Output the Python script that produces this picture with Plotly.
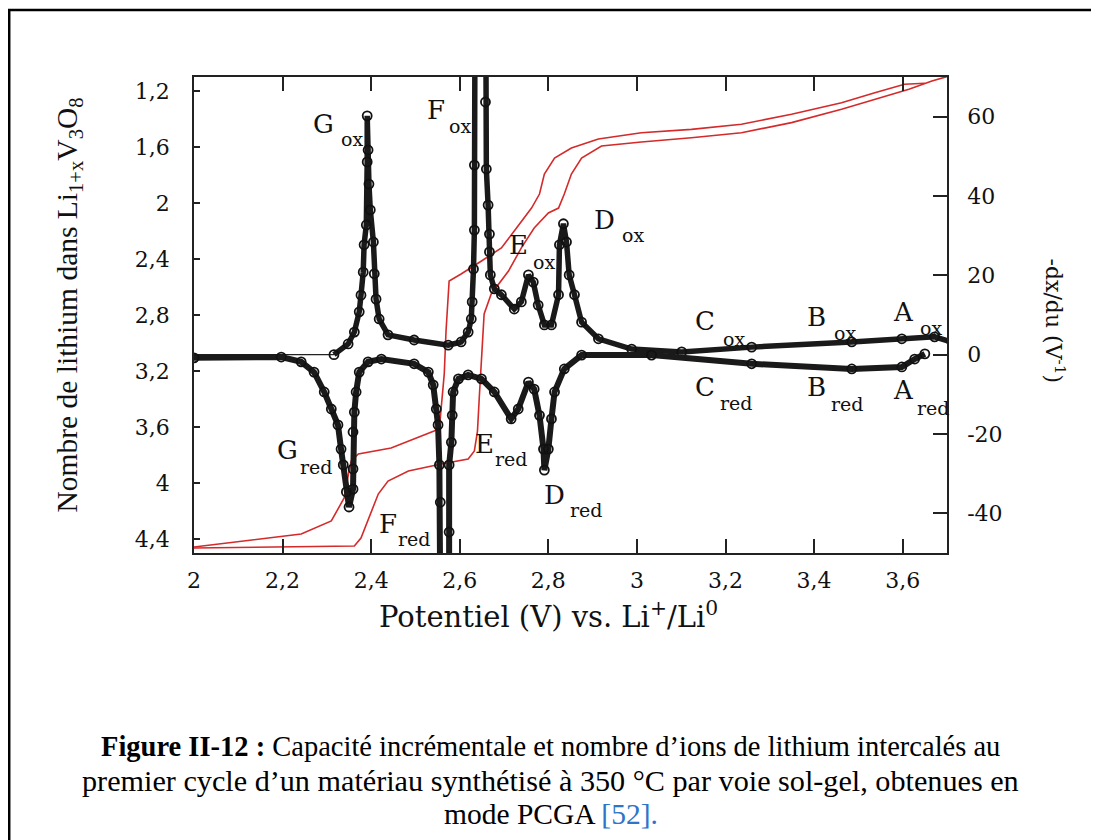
import plotly.graph_objects as go

# ---------------- data ----------------
# Lithium content (left axis, reversed) vs potential: two red curves
li_curve1_v = [2.000, 2.106, 2.197, 2.242, 2.310, 2.339, 2.350, 2.355, 2.371, 2.445, 2.542, 2.554,
               2.565, 2.569, 2.576, 2.603, 2.649, 2.694, 2.723, 2.762, 2.780, 2.791, 2.814, 2.852,
               2.913, 3.010, 3.123, 3.236, 3.349, 3.462, 3.537, 3.604, 3.650]
li_curve1_x = [4.457, 4.414, 4.379, 4.364, 4.271, 4.107, 3.914, 3.843, 3.793, 3.750, 3.629, 3.607,
               3.221, 2.914, 2.557, 2.507, 2.414, 2.321, 2.200, 2.036, 1.936, 1.793, 1.679, 1.607,
               1.543, 1.498, 1.474, 1.438, 1.366, 1.284, 1.212, 1.152, 1.145]

li_curve2_v = [2.000, 2.197, 2.362, 2.377, 2.395, 2.416, 2.438, 2.484, 2.558, 2.619, 2.633, 2.640,
               2.644, 2.653, 2.655, 2.671, 2.710, 2.739, 2.768, 2.800, 2.823, 2.836, 2.852, 2.875,
               2.920, 3.010, 3.123, 3.236, 3.349, 3.462, 3.537, 3.614, 3.666, 3.704]
li_curve2_x = [4.464, 4.457, 4.450, 4.393, 4.250, 4.079, 3.986, 3.914, 3.864, 3.829, 3.771, 3.629,
               3.393, 2.914, 2.793, 2.650, 2.486, 2.321, 2.179, 2.071, 2.036, 1.936, 1.793, 1.679,
               1.593, 1.564, 1.534, 1.498, 1.426, 1.331, 1.259, 1.188, 1.129, 1.093]

# Incremental capacity -dx/du (right axis): oxidation (positive) branch
ox_v = [2.000, 2.316, 2.348, 2.362, 2.373, 2.377, 2.382, 2.384, 2.389, 2.391, 2.391, 2.393, 2.395,
        2.398, 2.405, 2.407, 2.411, 2.418, 2.438, 2.497, 2.574, 2.603, 2.619, 2.626, 2.628, 2.631,
        2.633, 2.633, 2.635, 2.658, 2.658, 2.660, 2.664, 2.667, 2.667, 2.669, 2.678, 2.694, 2.723,
        2.739, 2.755, 2.766, 2.777, 2.791, 2.807, 2.823, 2.825, 2.834, 2.841, 2.847, 2.859, 2.875,
        2.913, 2.988, 3.101, 3.259, 3.485, 3.598, 3.672, 3.711]
ox_dxdu = [0.0, 0.0, 2.7, 5.7, 10.8, 15.0, 20.8, 27.7, 32.7, 48.6, 60.2, 51.6, 43.0,
           36.5, 28.4, 20.4, 14.0, 9.0, 5.0, 3.7, 2.4, 3.2, 5.7, 9.0, 13.3, 21.6,
           31.4, 47.8, 110.0, 110.0, 63.7, 46.8, 37.7, 30.4, 25.9, 20.1, 16.6, 15.1, 11.5,
           13.3, 20.1, 18.3, 12.5, 7.5, 7.5, 15.1, 27.7, 33.0, 28.4, 20.1, 15.1, 8.2,
           4.0, 1.4, 0.7, 1.9, 3.2, 4.0, 4.5, 3.2]

# reduction (negative) branch
red_v = [2.000, 2.197, 2.242, 2.271, 2.294, 2.310, 2.325, 2.332, 2.337, 2.344, 2.350, 2.359, 2.359,
         2.359, 2.362, 2.366, 2.373, 2.393, 2.423, 2.497, 2.529, 2.540, 2.547, 2.551, 2.554, 2.556,
         2.558, 2.576, 2.576, 2.576, 2.581, 2.583, 2.585, 2.597, 2.619, 2.649, 2.678, 2.716, 2.732,
         2.755, 2.768, 2.780, 2.789, 2.791, 2.800, 2.807, 2.814, 2.836, 2.875, 3.033, 3.259, 3.485,
         3.598, 3.627, 3.650]
red_dxdu = [-0.8, -0.6, -1.8, -4.4, -9.4, -13.7, -17.7, -23.8, -27.8, -34.6, -38.4, -33.9, -28.8,
            -19.5, -14.5, -9.4, -4.4, -1.8, -1.1, -2.3, -4.4, -7.6, -13.7, -17.7, -27.8, -37.2,
            -100.0, -100.0, -44.7, -27.8, -22.1, -15.3, -9.4, -6.1, -5.1, -6.1, -9.4, -16.2, -13.7,
            -6.9, -8.7, -15.3, -23.8, -29.1, -23.8, -16.2, -9.4, -3.6, -0.1, -0.1, -2.3, -3.6,
            -3.1, -1.1, 0.2]

x_ticks = [2.0, 2.2, 2.4, 2.6, 2.8, 3.0, 3.2, 3.4, 3.6]
x_ticklabels = ["2", "2,2", "2,4", "2,6", "2,8", "3", "3,2", "3,4", "3,6"]
yl_ticks = [1.2, 1.6, 2.0, 2.4, 2.8, 3.2, 3.6, 4.0, 4.4]
yl_ticklabels = ["1,2", "1,6", "2", "2,4", "2,8", "3,2", "3,6", "4", "4,4"]
yr_ticks = [-40, -20, 0, 20, 40, 60]
yr_ticklabels = ["-40", "-20", "0", "20", "40", "60"]

# peak labels: letter, subscript, (x, y2) of letter, (x, y2) of subscript
peak_labels = [
    ("G", "ox", 2.292, 58.2, 2.357, 54.4),
    ("F", "ox", 2.547, 61.7, 2.601, 57.7),
    ("E", "ox", 2.732, 27.7, 2.791, 23.4),
    ("D", "ox", 2.927, 34.0, 2.992, 30.2),
    ("C", "ox", 3.153, 8.5, 3.220, 4.0),
    ("B", "ox", 3.406, 9.5, 3.469, 5.5),
    ("A", "ox", 3.602, 10.8, 3.663, 6.7),
    ("C", "red", 3.153, -8.1, 3.225, -12.2),
    ("B", "red", 3.406, -8.1, 3.476, -12.4),
    ("A", "red", 3.602, -8.9, 3.670, -13.4),
    ("G", "red", 2.212, -24.0, 2.276, -28.3),
    ("E", "red", 2.655, -22.5, 2.716, -26.3),
    ("D", "red", 2.814, -35.4, 2.886, -39.2),
    ("F", "red", 2.438, -42.7, 2.497, -46.5),
]

# ---------------- figure ----------------
SERIF_W = "DejaVu Serif"
SERIF = "Liberation Serif"
RED = "#d42a2a"

fig = go.Figure()

fig.add_trace(go.Scatter(x=li_curve1_v, y=li_curve1_x, mode="lines",
                         line=dict(color=RED, width=1.6), yaxis="y", showlegend=False))
fig.add_trace(go.Scatter(x=li_curve2_v, y=li_curve2_x, mode="lines",
                         line=dict(color=RED, width=1.6), yaxis="y", showlegend=False))

# thin baseline of the oxidation branch before G_ox
fig.add_trace(go.Scatter(x=ox_v[:2], y=ox_dxdu[:2], mode="lines",
                         line=dict(color="#222", width=1.2), yaxis="y2", showlegend=False))
fig.add_trace(go.Scatter(x=ox_v[1:], y=ox_dxdu[1:], mode="lines+markers",
                         line=dict(color="#1a1a1a", width=5.5),
                         marker=dict(symbol="circle-open", size=9, color="#111",
                                     line=dict(width=1.8)),
                         yaxis="y2", showlegend=False))
fig.add_trace(go.Scatter(x=red_v, y=red_dxdu, mode="lines+markers",
                         line=dict(color="#1a1a1a", width=6),
                         marker=dict(symbol="circle-open", size=9, color="#111",
                                     line=dict(width=1.8)),
                         yaxis="y2", showlegend=False))

annotations = []
for letter, sub, lx, ly, sx, sy in peak_labels:
    annotations.append(dict(x=lx, y=ly, xref="x", yref="y2", text=letter, showarrow=False,
                            xanchor="center", yanchor="middle",
                            font=dict(family=SERIF_W, size=26, color="#111")))
    annotations.append(dict(x=sx, y=sy, xref="x", yref="y2", text=sub, showarrow=False,
                            xanchor="center", yanchor="middle",
                            font=dict(family=SERIF_W, size=19, color="#111")))

# axis titles
annotations.append(dict(x=0.4708, y=-0.130, xref="paper", yref="paper",
                        xanchor="center", yanchor="middle",
                        text="Potentiel (V) vs. Li<sup>+</sup>/Li<sup>0</sup>",
                        showarrow=False, font=dict(family=SERIF_W, size=29, color="#111")))
annotations.append(dict(x=-0.166, y=0.52, xref="paper", yref="paper", textangle=-90,
                        xanchor="center", yanchor="middle",
                        text="Nombre de lithium dans Li<sub>1+x</sub>V<sub>3</sub>O<sub>8</sub>",
                        showarrow=False, font=dict(family=SERIF, size=29.5, color="#111")))
annotations.append(dict(x=1.143, y=0.487, xref="paper", yref="paper", textangle=90,
                        xanchor="center", yanchor="middle",
                        text="-dx/du (V<sup>-1</sup>)",
                        showarrow=False, font=dict(family=SERIF_W, size=22, color="#111")))

# caption
annotations.append(dict(x=0.4735, y=-0.407, xref="paper", yref="paper", showarrow=False,
                        xanchor="center", yanchor="middle",
                        text="<b>Figure II-12 :</b> Capacité incrémentale et nombre d’ions de lithium intercalés au",
                        font=dict(family=SERIF, size=28.5, color="#000")))
annotations.append(dict(x=0.4735, y=-0.479, xref="paper", yref="paper", showarrow=False,
                        xanchor="center", yanchor="middle",
                        text="premier cycle d’un matériau synthétisé à 350 °C par voie sol-gel, obtenues en",
                        font=dict(family=SERIF, size=30.2, color="#000")))
annotations.append(dict(x=0.4735, y=-0.548, xref="paper", yref="paper", showarrow=False,
                        xanchor="center", yanchor="middle",
                        text="mode PCGA <span style='color:#2e74c8'>[52].</span>",
                        font=dict(family=SERIF, size=29.5, color="#000")))

axis_common = dict(ticks="inside", showline=True, linecolor="#222", linewidth=1.5,
                   tickcolor="#222", showgrid=False, zeroline=False,
                   tickfont=dict(family=SERIF_W, size=22, color="#111"))

fig.update_layout(
    width=1099, height=840,
    margin=dict(l=186, r=160, t=69, b=295),
    paper_bgcolor="white", plot_bgcolor="white",
    showlegend=False,
    xaxis=dict(range=[2.0, 3.7], tickvals=x_ticks, ticktext=x_ticklabels,
               ticklen=14, tickwidth=1.5, mirror="ticks", ticklabelstandoff=7, **axis_common),
    yaxis=dict(range=[4.5, 1.1], tickvals=yl_ticks, ticktext=yl_ticklabels,
               ticklen=6, tickwidth=1.5, ticklabelstandoff=18, **axis_common),
    yaxis2=dict(range=[-50, 70], tickvals=yr_ticks, ticktext=yr_ticklabels, overlaying="y",
                side="right", ticklen=14, tickwidth=1.5, ticklabelstandoff=14, **axis_common),
    annotations=annotations,
    shapes=[dict(type="rect", xref="paper", yref="paper", x0=-0.2454, x1=1.25, y0=-0.75,
                 y1=1.1408, line=dict(color="black", width=2.5), layer="above")],
)

fig.write_html("out.html")
